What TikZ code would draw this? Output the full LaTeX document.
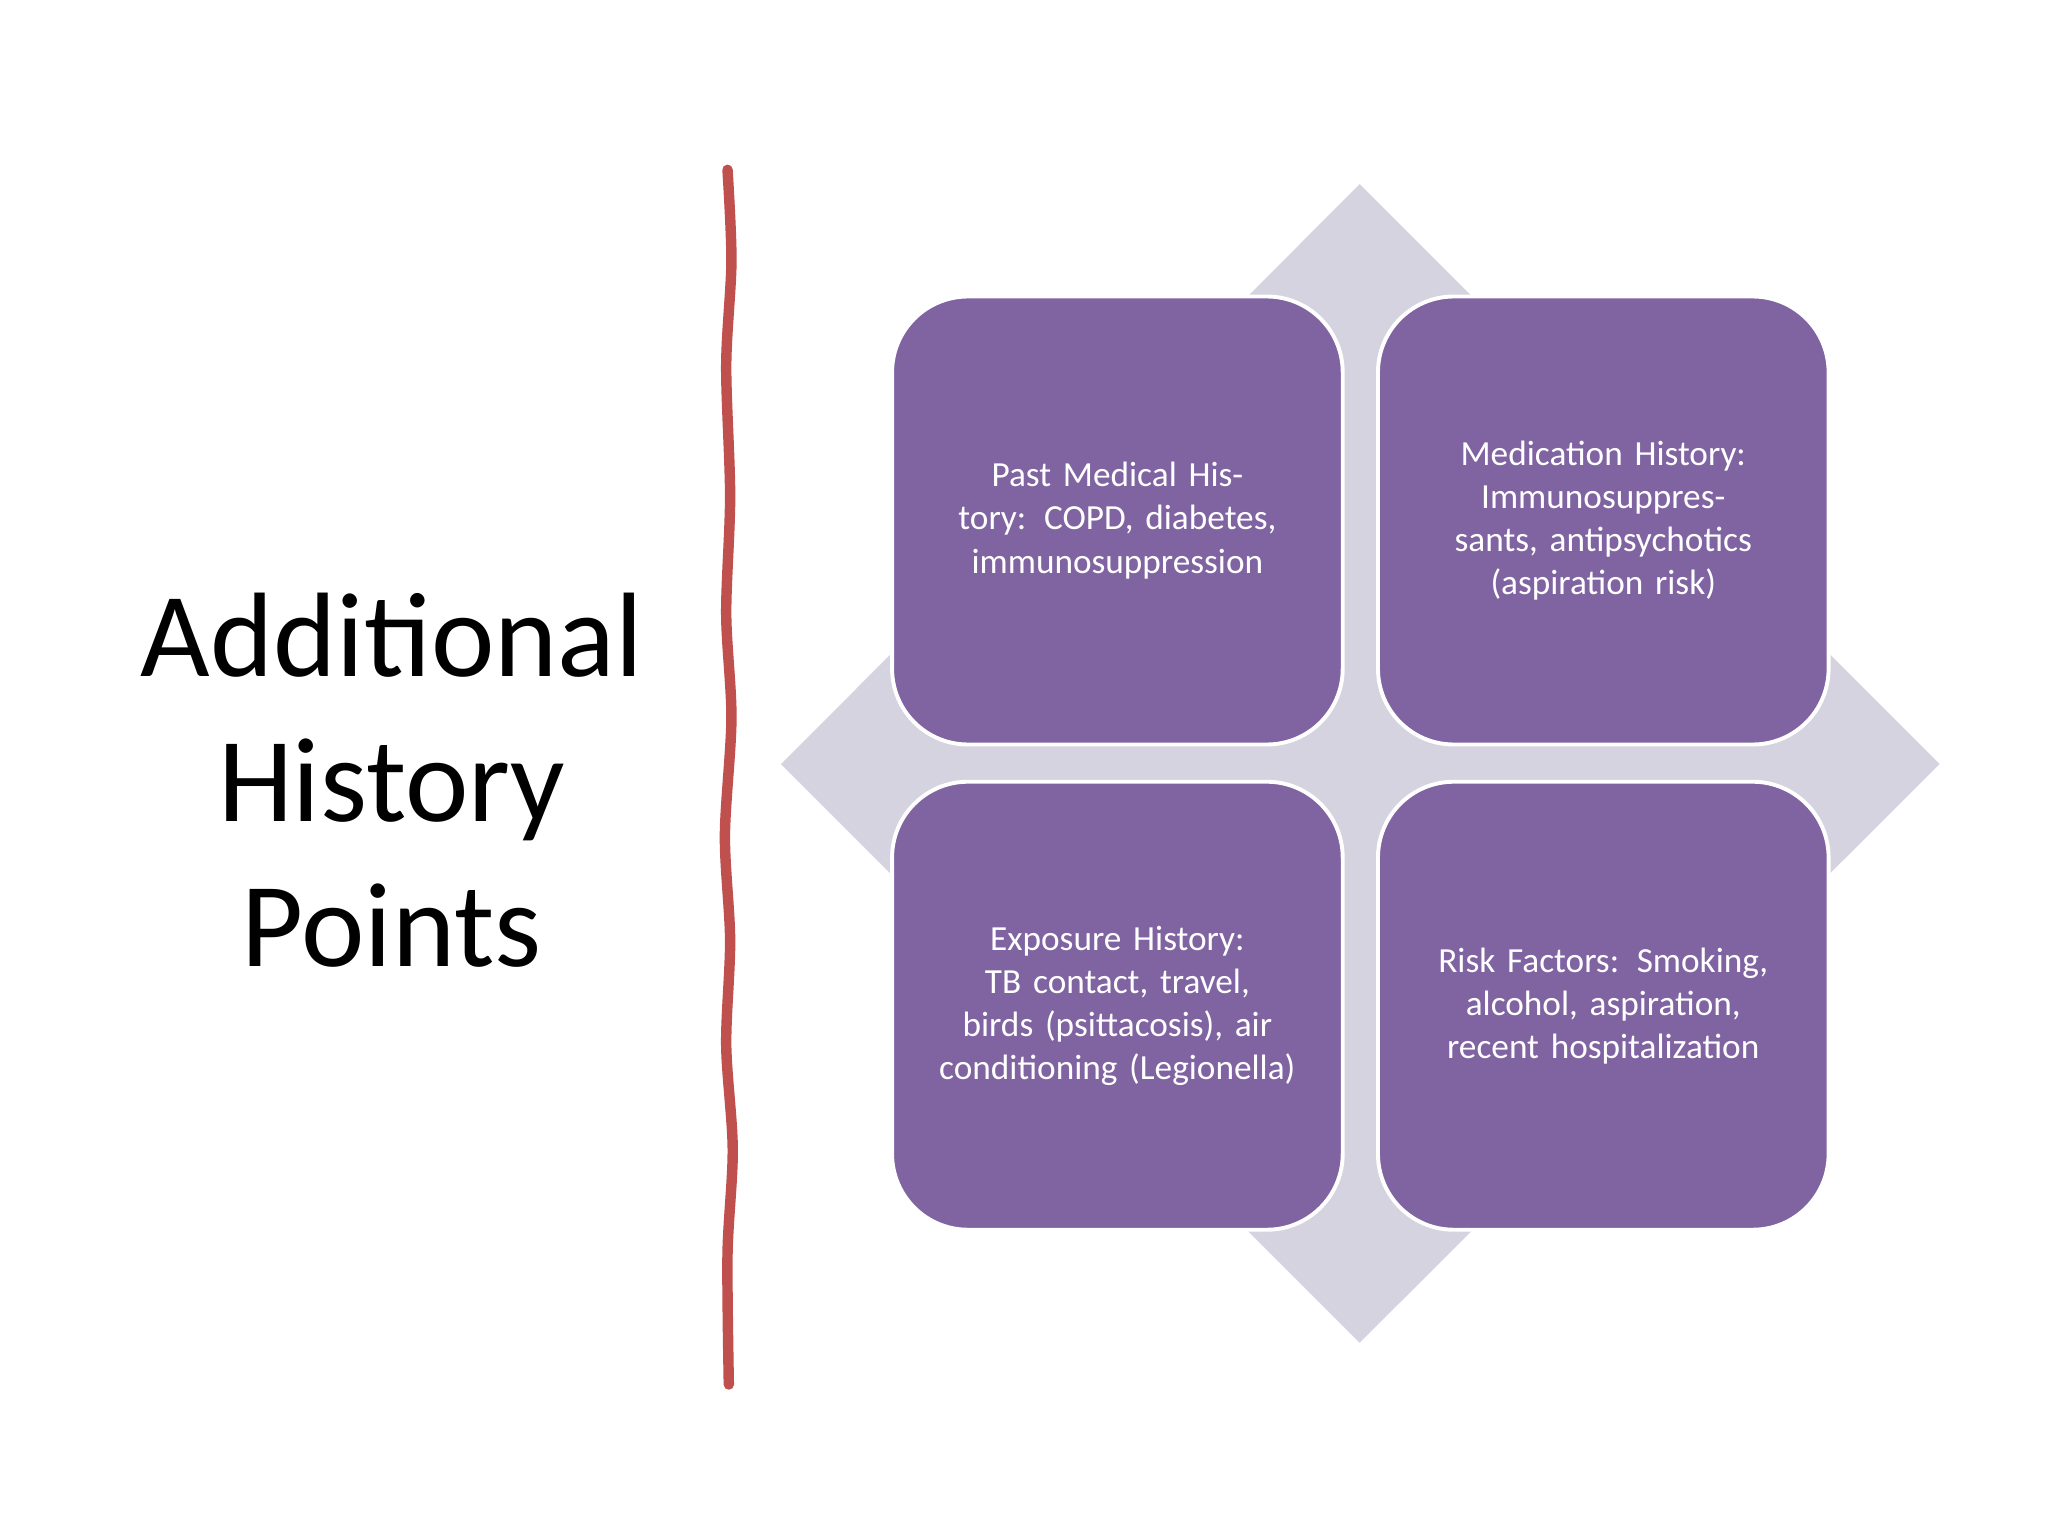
\documentclass[tikz,border=0pt]{standalone}
\usepackage{fontspec}
\setmainfont{Carlito}
\definecolor{boxfill}{HTML}{8064A2}
\definecolor{diam}{HTML}{D5D3E0}
\definecolor{redline}{HTML}{C0504D}
\begin{document}
\begin{tikzpicture}[x=1pt,y=-1pt,
  card/.style={draw=white,line width=3pt,fill=boxfill,rounded corners=58pt,
    minimum width=345pt,minimum height=343pt,text width=290pt,align=center,
    text=white,font=\fontsize{27}{33}\selectfont,inner sep=0pt}]
\useasboundingbox (0,0) rectangle (1568,1176);
\fill[white] (0,0) rectangle (1568,1176);
\fill[diam] (1041,141) coordinate (dt) -- (1485,585) coordinate (dr) -- (1041,1028) coordinate (db) -- (598,585) coordinate (dl) -- cycle;
\draw[redline,line width=8pt,line cap=round] plot[smooth] coordinates {(557,130) (560,200) (556,280) (559,380) (556,470) (560,550) (555,640) (559,720) (556,800) (561,880) (557,960) (558,1060)};
\node[card] (pmh) at (855.5,398.5) {Past Medical History: COPD, diabetes, immunosuppression};
\node[card] (med) at (1227.5,398.5) {Medication History: Immunosuppressants, antipsychotics (aspiration risk)};
\node[card] (exp) at (855.5,770) {Exposure History: TB contact, travel, birds (psittacosis), air conditioning (Legionella)};
\node[card] (risk) at (1227.5,770) {Risk Factors: Smoking, alcohol, aspiration, recent hospitalization};
\node[align=center,font=\fontsize{92}{111}\selectfont] (title) at (300,597) {Additional\\History\\Points};
\end{tikzpicture}
\end{document}
